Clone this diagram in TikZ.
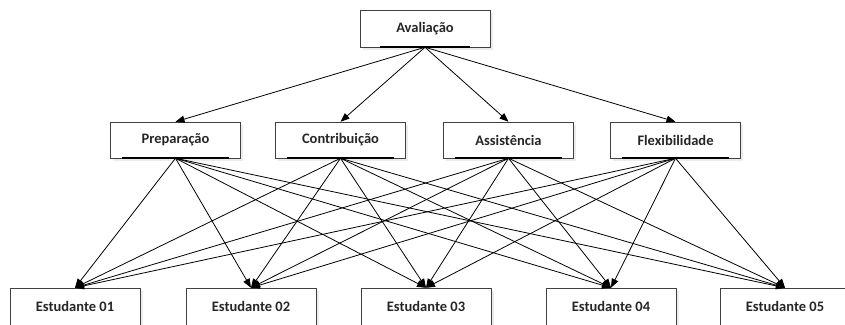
\documentclass[tikz,border=0pt]{standalone}
\usepackage{fontspec}
\setmainfont{Carlito}
\usetikzlibrary{arrows.meta,shadows,calc}
\begin{document}
\begin{tikzpicture}[x=1pt,y=-1pt,
  box/.style={draw=black!75, line width=0.5pt, fill=white, minimum width=130pt,
    minimum height=36pt, inner sep=0pt, font=\bfseries\fontsize{14.5}{16}\selectfont,
    text=black!85, drop shadow={shadow xshift=2.5pt, shadow yshift=-2.5pt, fill=black!15}},
  conn/.style={line width=0.8pt, -{Triangle[length=9pt,width=7pt]}},
  uline/.style={line width=1.8pt, black}
]
\useasboundingbox (0,0) rectangle (845,324);
% top
\node[box, minimum height=37pt] (av) at (425,28.5) {Avaliação};
% level 2
\node[box] (pr) at (175.5,140) {Preparação};
\node[box] (co) at (340.5,140) {Contribuição};
\node[box] (as) at (508.5,140) {Assistência};
\node[box] (fl) at (675.5,140) {Flexibilidade};
% level 3
\node[box, minimum height=37pt] (e1) at (75,306.5) {Estudante 01};
\node[box, minimum height=37pt] (e2) at (251,306.5) {Estudante 02};
\node[box, minimum height=37pt] (e3) at (426,306.5) {Estudante 03};
\node[box, minimum height=37pt] (e4) at (611,306.5) {Estudante 04};
\node[box, minimum height=37pt] (e5) at (785,306.5) {Estudante 05};
% underlines
\draw[uline] ($(av.south west)+(20,0)$) -- ($(av.south east)+(-20,0)$);
\foreach \n in {pr,co,as,fl}
  \draw[uline] ($(\n.south west)+(12,0)$) -- ($(\n.south east)+(-12,0)$);
% connectors
\foreach \n in {pr,co,as,fl}
  \draw[conn] (av.south) -- (\n.north);
\foreach \s in {pr,co,as,fl}
  \foreach \t in {e1,e2,e3,e4,e5}
    \draw[conn] (\s.south) -- (\t.north);
\end{tikzpicture}
\end{document}
